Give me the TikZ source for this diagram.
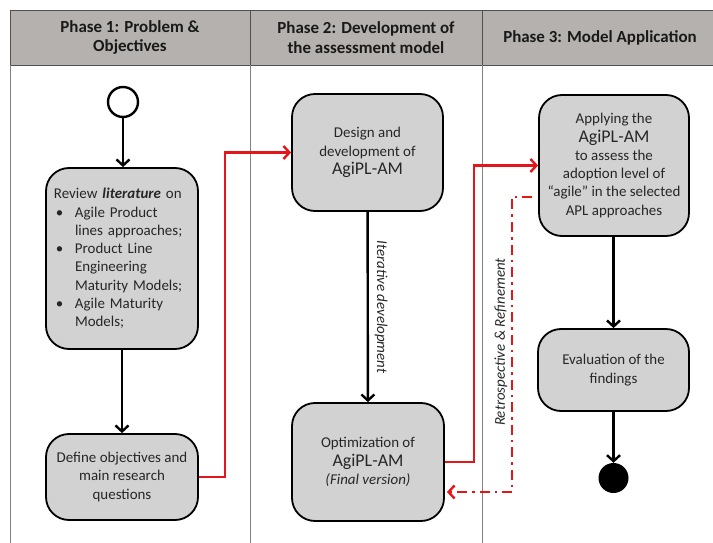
\documentclass[tikz,border=0pt]{standalone}
\usepackage{fontspec}
\setmainfont{Carlito}
\usetikzlibrary{arrows.meta}
\definecolor{hdr}{RGB}{180,177,174}
\definecolor{boxfill}{RGB}{210,210,210}
\definecolor{divgray}{RGB}{130,130,130}
\definecolor{hdrline}{RGB}{80,80,80}
\definecolor{ared}{RGB}{228,22,26}
\begin{document}
\begin{tikzpicture}[x=1bp,y=-1bp,
  box/.style={draw=black, line width=1.8bp, fill=boxfill, rounded corners=23bp,
    align=center, inner sep=4bp, text=black!85, font=\fontsize{15}{18.3}\selectfont},
  hdrtext/.style={align=center, font=\fontsize{17}{20}\selectfont\bfseries, text=black!90},
  tip/.style={-{Straight Barb[length=6bp,width=13bp,line width=2.4bp]}},
  flow/.style={draw=black, line width=2.4bp, tip},
  redflow/.style={draw=ared, line width=2.4bp, tip},
  reddash/.style={draw=ared, line width=2.4bp, dash pattern=on 10bp off 5bp on 2.5bp off 5bp, tip},
  lbl/.style={font=\fontsize{15}{18}\selectfont\itshape, text=black!85, inner sep=1bp}]
\useasboundingbox (0,0) rectangle (713,543);
% header band
\fill[hdr] (10,10) rectangle (713,65);
\draw[hdrline, line width=0.9bp] (10,10) -- (713,10);
\draw[hdrline, line width=0.9bp] (10,65) -- (713,65);
\draw[hdrline, line width=0.9bp] (10,10) -- (10,65);
\draw[hdrline, line width=0.9bp] (250,10) -- (250,65);
\draw[hdrline, line width=0.9bp] (482,10) -- (482,65);
% column separators
\draw[divgray, line width=0.9bp] (10,65) -- (10,543);
\draw[divgray, line width=0.9bp] (250,65) -- (250,543);
\draw[divgray, line width=0.9bp] (482,65) -- (482,543);
% header texts
\node[hdrtext] (h1) at (130,37.5) {Phase 1: Problem \&\\Objectives};
\node[hdrtext] (h2) at (366,37.5) {Phase 2: Development of\\the assessment model};
\node[hdrtext] (h3) at (600,37.5) {Phase 3: Model Application};
% phase 1
\node[circle, draw=black, line width=2.4bp, fill=white, minimum size=30bp, inner sep=0pt] (start) at (123,102) {};
\node[box, minimum width=152bp, minimum height=181bp, text width=136bp, inner xsep=8bp, align=left] (review) at (122,258.5)
  {Review \textbf{\textit{literature}} on\\
   \makebox[21bp][l]{\hspace{2bp}\textbullet}Agile Product\\
   \hspace*{21bp}lines approaches;\\
   \makebox[21bp][l]{\hspace{2bp}\textbullet}Product Line\\
   \hspace*{21bp}Engineering\\
   \hspace*{21bp}Maturity Models;\\
   \makebox[21bp][l]{\hspace{2bp}\textbullet}Agile Maturity\\
   \hspace*{21bp}Models;};
\node[box, minimum width=152bp, minimum height=86bp] (define) at (122,477)
  {Define objectives and\\main research\\questions};
% phase 2
\node[box, minimum width=151bp, minimum height=117bp] (design) at (367.5,152.5)
  {Design and\\development of\\{\fontsize{18}{21}\selectfont AgiPL-AM}};
\node[box, minimum width=152bp, minimum height=118bp] (opt) at (368,462)
  {Optimization of\\{\fontsize{18}{21}\selectfont AgiPL-AM}\\\textit{(Final version)}};
% phase 3
\node[box, minimum width=150bp, minimum height=141bp] (apply) at (614,165.5)
  {Applying the\\{\fontsize{18}{20}\selectfont AgiPL-AM}\\to assess the\\adoption level of\\“agile” in the selected\\APL approaches};
\node[box, minimum width=151bp, minimum height=82bp] (eval) at (613.5,370)
  {Evaluation of the\\findings};
\node[circle, fill=black, minimum size=30bp, inner sep=0pt] (end) at (613.5,478) {};
% connectors
\draw[flow] (start) -- (start |- review.north);
\draw[flow] (review) -- (define);
\draw[flow] (design) -- (opt);
\draw[flow] (apply.south -| eval.north) -- (eval.north);
\draw[flow] (eval) -- (end);
\draw[redflow] (define.east) -- ++(26,0) |- (design.west);
\draw[redflow] (opt.east) -- ++(29,0) |- (apply.west);
\draw[reddash] ([yshift=-31.5bp,xshift=-6bp]apply.west) -- ++(-20,0) |- ([yshift=-30bp,xshift=2bp]opt.east);
% labels
\node[lbl, rotate=-90] (l1) at (381,307) {Iterative development};
\node[lbl, rotate=90] (l2) at (501,342) {Retrospective \& Refinement};
\end{tikzpicture}
\end{document}
